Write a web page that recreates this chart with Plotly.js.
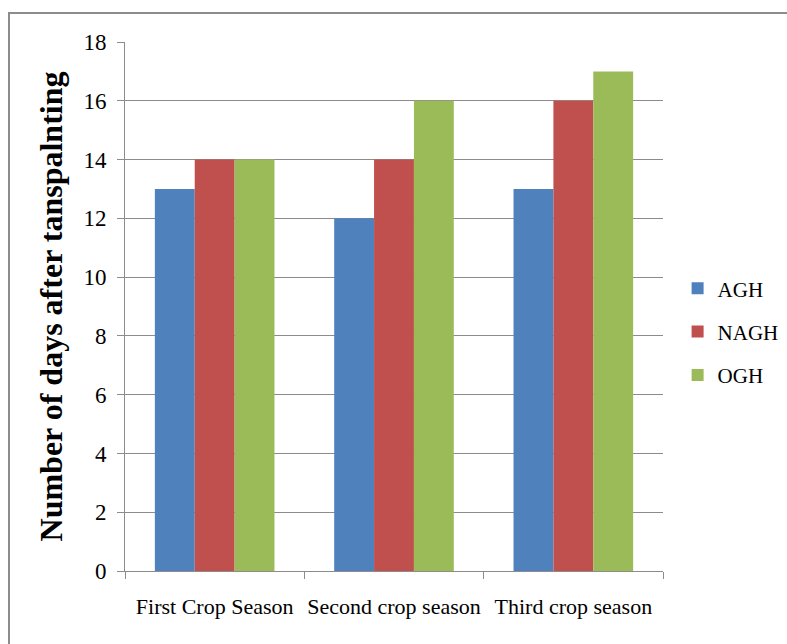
<!DOCTYPE html>
<html>
<head>
<meta charset="utf-8">
<script src="https://cdn.plot.ly/plotly-3.0.1.min.js"></script>
<style>html,body{margin:0;padding:0;background:#fff;}#chart{width:787px;height:644px;}</style>
</head>
<body>
<div id="chart"></div>
<script>
const categories = ["First Crop Season", "Second crop season", "Third crop season"];
const seriesNames = ["AGH", "NAGH", "OGH"];
const aghValues = [13, 12, 13];
const naghValues = [14, 14, 16];
const oghValues = [14, 16, 17];
const yTickValues = [0, 2, 4, 6, 8, 10, 12, 14, 16, 18];
const colors = ["#4F81BD", "#C0504D", "#9BBB59"];

const seriesValues = [aghValues, naghValues, oghValues];
const traces = seriesNames.map((name, i) => ({
  type: "bar",
  name: name,
  x: categories,
  y: seriesValues[i],
  marker: {color: colors[i], line: {width: 0}},
  legendgroup: name,
  hoverinfo: "x+y+name"
}));

const font = "Liberation Serif";
const layout = {
  width: 787,
  height: 644,
  margin: {l: 125, r: 124, t: 42, b: 73},
  paper_bgcolor: "#ffffff",
  plot_bgcolor: "#ffffff",
  barmode: "group",
  bargap: 0.333,
  bargroupgap: 0,
  font: {family: font, color: "#000000", size: 22},
  showlegend: true,
  legend: {
    xref: "container", yref: "container",
    x: 0.861, xanchor: "left",
    y: 0.485, yanchor: "middle",
    font: {family: font, size: 21, color: "#000"},
    tracegroupgap: 13,
    itemwidth: 30,
    bgcolor: "rgba(0,0,0,0)"
  },
  xaxis: {
    type: "category",
    showgrid: false,
    showline: true,
    linecolor: "#8c8c8c",
    linewidth: 1,
    ticks: "outside",
    tickson: "boundaries",
    ticklen: 7,
    tickcolor: "#8c8c8c",
    tickangle: 0,
    tickfont: {family: font, size: 22, color: "#000"},
    ticklabelstandoff: 16,
    zeroline: false,
    fixedrange: true
  },
  yaxis: {
    range: [0, 18],
    tickvals: yTickValues,
    showgrid: true,
    gridcolor: "#8c8c8c",
    gridwidth: 1,
    showline: true,
    linecolor: "#8c8c8c",
    linewidth: 1,
    ticks: "outside",
    ticklen: 7,
    tickcolor: "#8c8c8c",
    tickfont: {family: font, size: 23, color: "#000"},
    ticklabelstandoff: 6,
    zeroline: false,
    title: {
      text: "<b>Number of days after tanspalnting</b>",
      font: {family: font, size: 32, color: "#000"},
      standoff: 11
    },
    fixedrange: true
  },
  shapes: [{
    type: "rect", xref: "paper", yref: "paper",
    x0: -0.2156, x1: 1.5, y0: -0.3, y1: 1.0548,
    line: {color: "#8c8c8c", width: 2},
    fillcolor: "rgba(0,0,0,0)",
    layer: "below"
  }]
};

Plotly.newPlot("chart", traces, layout, {displayModeBar: false, staticPlot: true});
</script>
</body>
</html>
